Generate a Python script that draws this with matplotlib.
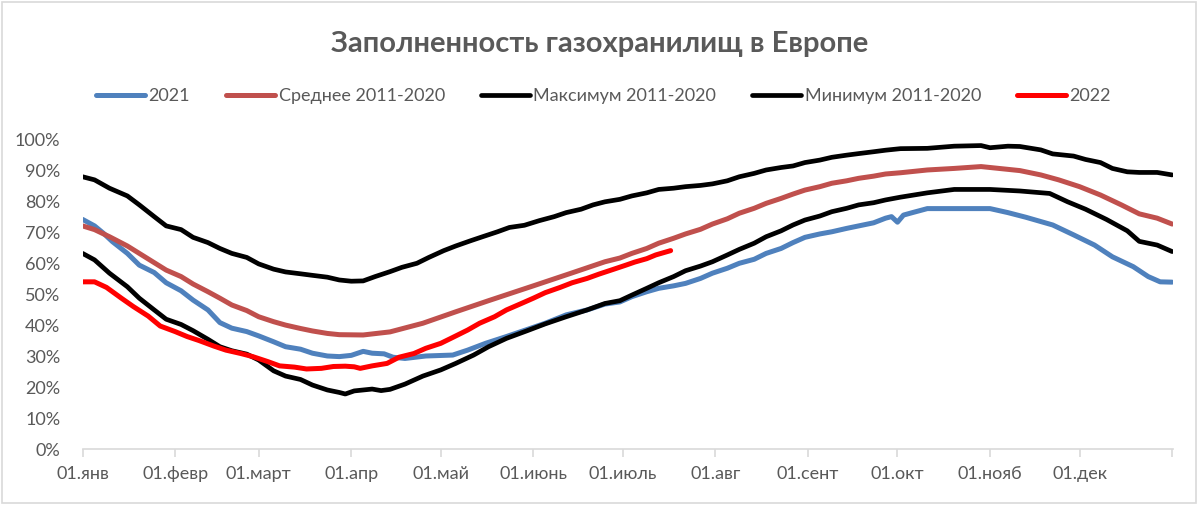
import matplotlib
matplotlib.use('Agg')
import matplotlib.pyplot as plt
from matplotlib.patches import Rectangle

plt.rcParams['font.family'] = ['Lato', 'DejaVu Sans']

# day of year -> share filled, %
days_2021 = [0, 4, 7, 10, 15, 19, 24, 28, 33, 37, 42, 46, 50, 55, 59, 64, 68, 73, 77, 82, 86, 90, 94, 97, 101,
             104, 108, 115, 124, 129, 135, 142, 149, 155, 162, 169, 175, 180, 184, 189, 193, 198, 202, 207, 211,
             216, 220, 225, 229, 234, 238, 242, 247, 251, 256, 260, 265, 269, 271, 273, 275, 278, 283, 292, 304,
             310, 316, 325, 332, 339, 345, 352, 357, 361, 365]
vals_2021 = [74.3, 72.2, 69.8, 67.1, 63.3, 59.5, 57.1, 53.8, 51.2, 48.2, 45.0, 40.9, 39.1, 38.0, 36.6, 34.7, 33.1,
             32.3, 31.0, 30.1, 29.9, 30.3, 31.6, 31.0, 30.8, 29.7, 29.3, 30.1, 30.4, 32.0, 34.2, 36.4, 38.7, 40.7,
             43.4, 45.0, 46.9, 47.6, 49.3, 50.9, 52.0, 52.8, 53.6, 55.2, 56.9, 58.5, 60.1, 61.4, 63.3, 64.9, 66.8,
             68.5, 69.6, 70.3, 71.4, 72.2, 73.2, 74.7, 75.2, 73.4, 75.7, 76.5, 77.8, 77.8, 77.8, 76.5, 75.0, 72.5,
             69.3, 66.0, 62.2, 59.0, 55.8, 54.1, 54.0]

days_avg = [0, 4, 9, 15, 19, 24, 28, 33, 37, 42, 46, 50, 55, 59, 64, 68, 73, 77, 82, 86, 94, 103, 114, 125, 136,
            151, 164, 175, 180, 184, 189, 193, 198, 202, 207, 211, 216, 220, 225, 229, 234, 238, 242, 247, 251,
            256, 260, 265, 269, 274, 283, 292, 301, 307, 314, 321, 327, 334, 341, 348, 354, 360, 365]
vals_avg = [72.2, 71.0, 68.7, 65.7, 63.3, 60.3, 57.9, 55.8, 53.4, 50.9, 48.8, 46.6, 44.8, 42.8, 41.2, 40.1, 39.0,
            38.2, 37.4, 37.0, 36.9, 37.9, 40.7, 44.4, 48.0, 52.8, 57.0, 60.6, 61.8, 63.3, 64.9, 66.6, 68.2, 69.6,
            71.1, 72.8, 74.5, 76.3, 77.9, 79.5, 81.1, 82.5, 83.8, 84.9, 86.0, 86.8, 87.6, 88.3, 89.0, 89.4, 90.3,
            90.8, 91.4, 90.8, 90.1, 88.7, 87.1, 84.9, 82.2, 79.0, 76.1, 74.7, 72.8]

days_max = [0, 4, 9, 15, 19, 24, 28, 33, 37, 42, 46, 50, 55, 59, 64, 68, 73, 77, 82, 86, 90, 94, 98, 103, 107,
            112, 116, 121, 125, 130, 134, 139, 143, 148, 153, 158, 162, 167, 171, 175, 180, 184, 189, 193, 198,
            202, 207, 211, 216, 220, 225, 229, 234, 238, 242, 247, 251, 256, 260, 265, 269, 274, 283, 292, 301,
            304, 310, 314, 321, 325, 332, 336, 341, 345, 350, 354, 360, 365]
vals_max = [88.1, 87.1, 84.4, 81.9, 79.0, 75.2, 72.2, 71.0, 68.5, 66.8, 64.9, 63.3, 62.0, 59.9, 58.2, 57.3, 56.7,
            56.2, 55.6, 54.7, 54.3, 54.4, 55.8, 57.4, 58.8, 60.1, 62.0, 64.2, 65.7, 67.4, 68.7, 70.3, 71.7, 72.4,
            73.9, 75.2, 76.5, 77.6, 79.0, 80.0, 80.8, 81.9, 82.9, 84.0, 84.4, 84.9, 85.3, 85.8, 86.8, 88.1, 89.2,
            90.3, 91.1, 91.6, 92.7, 93.5, 94.4, 95.1, 95.6, 96.2, 96.7, 97.2, 97.3, 98.0, 98.2, 97.5, 98.0, 97.9,
            96.8, 95.5, 94.8, 93.7, 92.7, 90.8, 89.7, 89.5, 89.5, 88.7]

days_min = [0, 4, 9, 15, 19, 24, 28, 33, 37, 42, 46, 50, 55, 59, 64, 68, 73, 77, 82, 86, 88, 91, 97, 100, 103,
            108, 114, 120, 125, 131, 136, 142, 149, 155, 162, 169, 175, 180, 184, 189, 193, 198, 202, 207, 211,
            216, 220, 225, 229, 234, 238, 242, 247, 251, 256, 260, 265, 269, 274, 283, 292, 304, 314, 324, 330,
            336, 343, 350, 354, 360, 365]
vals_min = [63.3, 61.2, 56.9, 52.5, 48.8, 45.0, 42.0, 40.3, 38.3, 35.5, 33.1, 31.8, 30.7, 28.8, 25.3, 23.6, 22.5,
            20.7, 19.1, 18.3, 17.8, 18.8, 19.4, 18.9, 19.3, 21.0, 23.6, 25.6, 27.7, 30.4, 33.1, 35.8, 38.3, 40.5,
            42.8, 45.0, 47.1, 48.0, 49.8, 52.0, 53.8, 55.8, 57.7, 59.2, 60.6, 62.8, 64.6, 66.6, 68.7, 70.6, 72.5,
            74.1, 75.4, 76.8, 77.9, 79.0, 79.7, 80.6, 81.5, 82.9, 84.0, 84.0, 83.5, 82.7, 80.0, 77.6, 74.3, 70.6,
            67.2, 66.0, 63.9]

days_2022 = [0, 4, 8, 13, 17, 22, 26, 31, 35, 39, 44, 48, 53, 57, 62, 66, 71, 75, 80, 84, 88, 91, 93, 97, 102,
             106, 111, 115, 120, 124, 129, 133, 138, 142, 147, 151, 155, 160, 164, 169, 173, 178, 182, 185, 189,
             192, 197]
vals_2022 = [54.1, 54.1, 52.3, 48.8, 46.1, 43.0, 39.8, 38.0, 36.4, 35.1, 33.3, 32.0, 30.9, 29.9, 28.3, 26.9, 26.5,
             25.9, 26.1, 26.7, 26.8, 26.6, 26.1, 26.9, 27.7, 29.7, 30.9, 32.6, 34.2, 36.1, 38.5, 40.7, 42.8, 45.0,
             47.1, 48.8, 50.6, 52.3, 53.8, 55.2, 56.6, 58.2, 59.5, 60.5, 61.6, 62.8, 64.2]

month_days = [0, 31, 59, 90, 120, 151, 181, 212, 243, 273, 304, 334, 365]
month_labels = ['01.янв', '01.февр', '01.март', '01.апр', '01.май', '01.июнь', '01.июль',
                '01.авг', '01.сент', '01.окт', '01.нояб', '01.дек', '']
y_ticks = [0, 10, 20, 30, 40, 50, 60, 70, 80, 90, 100]

grey = '#595959'

fig = plt.figure(figsize=(12, 5.05), dpi=100)
ax = fig.add_axes([82.6 / 1200, 56 / 505, (1172.7 - 82.6) / 1200, 309 / 505])

ax.plot(days_2021, vals_2021, color='#4f81bd', lw=3.6, label='2021', solid_capstyle='round')
ax.plot(days_avg, vals_avg, color='#c0504d', lw=3.6, label='Среднее 2011-2020', solid_capstyle='round')
ax.plot(days_max, vals_max, color='black', lw=3.4, label='Максимум 2011-2020', solid_capstyle='round')
ax.plot(days_min, vals_min, color='black', lw=3.4, label='Минимум 2011-2020', solid_capstyle='round')
ax.plot(days_2022, vals_2022, color='#ff0000', lw=3.6, label='2022', solid_capstyle='round')

ax.set_xlim(0, 365.2)
ax.set_ylim(0, 100)
ax.set_xticks(month_days)
ax.set_xticklabels(month_labels)
ax.set_yticks(y_ticks)
ax.set_yticklabels([f'{v}%' for v in y_ticks])

for side in ['top', 'right', 'left']:
    ax.spines[side].set_visible(False)
ax.spines['bottom'].set_color('#d9d9d9')
ax.spines['bottom'].set_linewidth(1.2)
ax.tick_params(axis='x', colors='#d9d9d9', length=6, width=1.2, direction='out',
               labelcolor=grey, labelsize=13, pad=6)
ax.tick_params(axis='y', length=0, labelcolor=grey, labelsize=13, pad=16)

fig.text(0.5, 1 - 44 / 505, 'Заполненность газохранилищ в Европе', ha='center', va='center',
         fontsize=21, fontweight='bold', color=grey)

leg = fig.legend(loc='center', bbox_to_anchor=(0.503, 1 - 96 / 505), ncol=5, frameon=False,
                 fontsize=13, handlelength=2.7, handletextpad=0.2, columnspacing=2.0, labelcolor=grey)

fig.patches.append(Rectangle((0.002, 0.004), 0.995, 0.992, transform=fig.transFigure,
                             fill=False, edgecolor='#d9d9d9', lw=1.2))

fig.savefig('out.png', dpi=100)
